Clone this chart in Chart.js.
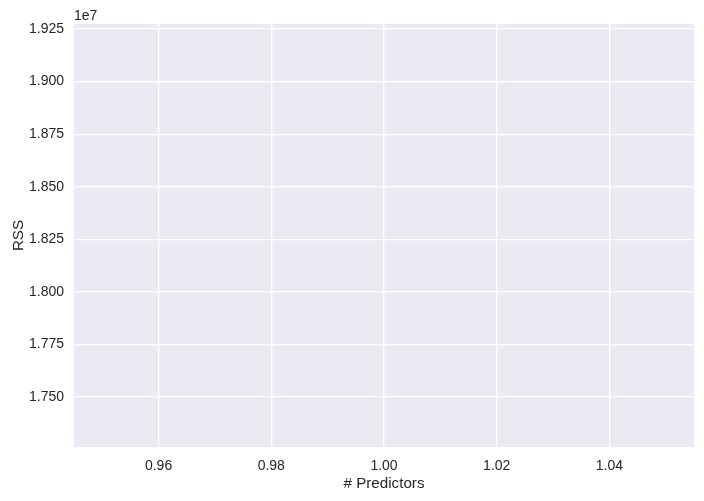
<!DOCTYPE html>
<html>
<head>
<meta charset="utf-8">
<script src="https://cdn.jsdelivr.net/npm/chart.js@4/dist/chart.umd.min.js"></script>
<style>
  body { margin: 0; background: #fff; }
  canvas { display: block; }
</style>
</head>
<body>
<canvas id="graficoRss" width="704" height="501"></canvas>
<script>
// dados do grafico (nenhuma marca visivel no original)
const predictors = [1];
const rss = [18268000];

const xTicks = [0.96, 0.98, 1.00, 1.02, 1.04];
const yTicks = [17500000, 17750000, 18000000, 18250000, 18500000, 18750000, 19000000, 19250000];
const xLimits = [0.945, 1.055];
const yLimits = [17262400, 19273800];

const corTexto = '#262626';

// fundo cinza da area do grafico + texto "1e7"
const fundoPlugin = {
    id: 'fundo',
    beforeDraw(chart) {
        const { ctx, chartArea } = chart;
        ctx.save();
        ctx.fillStyle = '#EAEAF2';
        ctx.fillRect(chartArea.left, chartArea.top, chartArea.right - chartArea.left, chartArea.bottom - chartArea.top);
        ctx.restore();
    },
    afterDraw(chart) {
        const { ctx, chartArea } = chart;
        ctx.save();
        ctx.fillStyle = corTexto;
        ctx.font = '14px "Liberation Sans", Arial, sans-serif';
        ctx.textAlign = 'left';
        ctx.textBaseline = 'alphabetic';
        ctx.fillText('1e7', chartArea.left, chartArea.top - 4);
        ctx.restore();
    }
};

const ctx = document.getElementById('graficoRss').getContext('2d');

new Chart(ctx, {
    type: 'scatter',
    data: {
        datasets: [{
            label: 'RSS',
            data: predictors.map((p, i) => ({ x: p, y: rss[i] })),
            pointRadius: 0,
            showLine: false
        }]
    },
    options: {
        responsive: false,
        animation: false,
        events: [],
        layout: { padding: { top: 24, right: 10, left: 0, bottom: 0 } },
        plugins: {
            legend: { display: false },
            tooltip: { enabled: false }
        },
        scales: {
            x: {
                type: 'linear',
                min: xLimits[0],
                max: xLimits[1],
                afterBuildTicks: (scale) => { scale.ticks = xTicks.map(v => ({ value: v })); },
                afterFit: (scale) => { scale.height = 54; },
                grid: { color: '#ffffff', lineWidth: 1.3, drawTicks: false },
                border: { display: false },
                ticks: {
                    color: corTexto,
                    padding: 11,
                    font: { family: '"Liberation Sans", Arial, sans-serif', size: 14 },
                    callback: (v) => v.toFixed(2)
                },
                title: {
                    display: true,
                    text: '# Predictors',
                    color: corTexto,
                    padding: { top: 0, bottom: 8 },
                    font: { family: '"Liberation Sans", Arial, sans-serif', size: 15.2 }
                }
            },
            y: {
                type: 'linear',
                min: yLimits[0],
                max: yLimits[1],
                afterBuildTicks: (scale) => { scale.ticks = yTicks.map(v => ({ value: v })); },
                afterFit: (scale) => { scale.width = 74; },
                grid: { color: '#ffffff', lineWidth: 1.3, drawTicks: false },
                border: { display: false },
                ticks: {
                    color: corTexto,
                    padding: 10,
                    font: { family: '"Liberation Sans", Arial, sans-serif', size: 14 },
                    callback: (v) => (v / 1e7).toFixed(3)
                },
                title: {
                    display: true,
                    text: 'RSS',
                    color: corTexto,
                    padding: { top: 10, bottom: 0 },
                    font: { family: '"Liberation Sans", Arial, sans-serif', size: 15.2 }
                }
            }
        }
    },
    plugins: [fundoPlugin]
});
</script>
</body>
</html>
